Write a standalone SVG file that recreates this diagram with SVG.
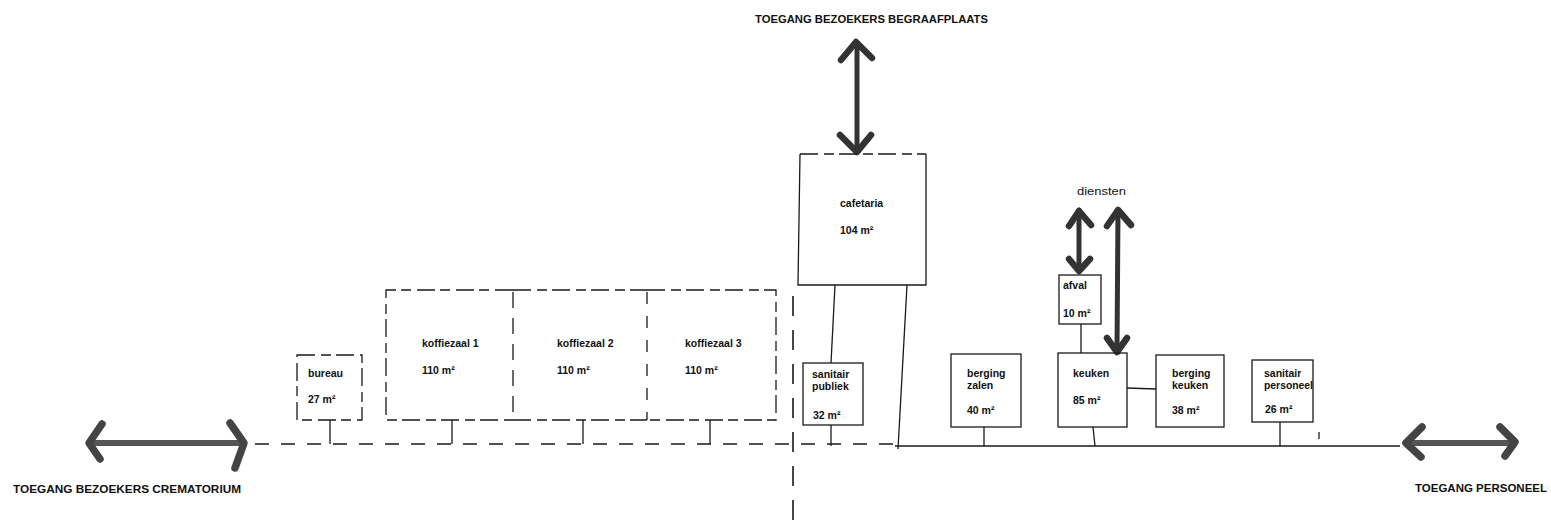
<svg xmlns="http://www.w3.org/2000/svg" width="1551" height="525" viewBox="0 0 1551 525">
<style>
  .box{fill:none;stroke:#1a1a1a;stroke-width:1.3}
  .dbox{fill:none;stroke:#1a1a1a;stroke-width:1.3;stroke-dasharray:18 6 10 5}
  .ln{fill:none;stroke:#1a1a1a;stroke-width:1.3}
  .dash{fill:none;stroke:#1a1a1a;stroke-width:1.3;stroke-dasharray:14 12}
  .vdash{fill:none;stroke:#1a1a1a;stroke-width:1.6;stroke-dasharray:20 14}
  .arr{fill:none;stroke:#555;stroke-width:6;stroke-linecap:round;stroke-linejoin:round}
  .head{fill:none;stroke:#444;stroke-width:7.5;stroke-linecap:round;stroke-linejoin:round}
  .arrd{fill:none;stroke:#333;stroke-width:5;stroke-linecap:round;stroke-linejoin:round}
  .headd{fill:none;stroke:#333;stroke-width:6.5;stroke-linecap:round;stroke-linejoin:round}
  .t{font-family:"Liberation Sans",Arial,sans-serif;font-size:10.5px;font-weight:bold;fill:#111}
  .tn{font-family:"Liberation Sans",Arial,sans-serif;font-size:11px;fill:#111}
  .cap{font-family:"Liberation Sans",Arial,sans-serif;font-size:10.5px;font-weight:bold;fill:#111}
</style>
<rect width="1551" height="525" fill="#ffffff"/>

<g id="connectors">
  <!-- corridor -->
  <line class="dash" x1="255" y1="444" x2="895" y2="444"/>
  <line class="ln" x1="895" y1="446" x2="1400" y2="446"/>
  <!-- vertical dashed divider -->
  <line class="vdash" x1="793" y1="296" x2="793" y2="522"/>
  <!-- stems -->
  <line class="ln" x1="330" y1="420" x2="330" y2="444"/>
  <line class="ln" x1="452" y1="420" x2="452" y2="444"/>
  <line class="ln" x1="583" y1="420" x2="583" y2="444"/>
  <line class="ln" x1="710" y1="420" x2="710" y2="444"/>
  <line class="ln" x1="835" y1="285" x2="831" y2="363"/>
  <line class="ln" x1="831" y1="425" x2="831" y2="446"/>
  <line class="ln" x1="907" y1="285" x2="898" y2="449"/>
  <line class="ln" x1="984" y1="427" x2="984" y2="446"/>
  <line class="ln" x1="1081" y1="324" x2="1081" y2="353"/>
  <line class="ln" x1="1093" y1="427" x2="1095" y2="446"/>
  <line class="ln" x1="1127" y1="388" x2="1156" y2="389"/>
  <line class="ln" x1="1280" y1="422" x2="1280" y2="446"/>
  <line class="ln" x1="1319" y1="432" x2="1319" y2="439"/>
  <!-- access arrows -->
  <g id="arrow-crematorium">
    <line class="arr" x1="90" y1="443" x2="243" y2="443"/>
    <polyline class="head" points="102,424 89,443 100,459"/>
    <polyline class="head" points="230,423 244,443 235,468"/>
  </g>
  <g id="arrow-personeel">
    <line class="arr" x1="1407" y1="443" x2="1514" y2="443"/>
    <polyline class="head" points="1422,427 1406,443 1421,457"/>
    <polyline class="head" points="1500,427 1515,442 1505,456"/>
  </g>
  <g id="arrow-begraafplaats">
    <line class="arrd" x1="857" y1="43" x2="857" y2="151"/>
    <polyline class="headd" points="841,60 856,42 872,58"/>
    <polyline class="headd" points="840,135 857,152 871,135"/>
  </g>
  <g id="arrow-afval">
    <line class="arrd" x1="1079" y1="210" x2="1079" y2="270"/>
    <polyline class="headd" points="1069,226 1079,211 1091,225"/>
    <polyline class="headd" points="1069,259 1079,271 1090,259"/>
  </g>
  <g id="arrow-keuken">
    <line class="arrd" x1="1118" y1="210" x2="1117" y2="351"/>
    <polyline class="headd" points="1107,226 1118,210 1131,225"/>
    <polyline class="headd" points="1107,338 1117,352 1127,338"/>
  </g>
</g>

<g id="labels">
  <text class="cap" x="755" y="23" textLength="233" lengthAdjust="spacingAndGlyphs">TOEGANG BEZOEKERS BEGRAAFPLAATS</text>
  <text class="cap" x="13" y="493" textLength="228" lengthAdjust="spacingAndGlyphs">TOEGANG BEZOEKERS CREMATORIUM</text>
  <text class="cap" x="1415" y="492" textLength="132" lengthAdjust="spacingAndGlyphs">TOEGANG PERSONEEL</text>
  <text class="tn" x="1077" y="195" textLength="49" lengthAdjust="spacingAndGlyphs">diensten</text>
</g>

<g id="bureau">
  <rect class="dbox" x="297" y="355" width="65" height="65"/>
  <text class="t" x="308" y="377">bureau</text>
  <text class="t" x="308" y="403">27 m²</text>
</g>

<g id="koffiezaal1">
  <path class="dbox" d="M513,290 L386,290 L386,420 L513,420"/>
  <text class="t" x="422" y="347">koffiezaal 1</text>
  <text class="t" x="422" y="374">110 m²</text>
</g>
<g id="koffiezaal2">
  <path class="dbox" d="M513,290 L647,290 M513,420 L647,420"/>
  <line class="dash" x1="513" y1="292" x2="513" y2="420" style="stroke-dasharray:16 10"/>
  <text class="t" x="557" y="347">koffiezaal 2</text>
  <text class="t" x="557" y="374">110 m²</text>
</g>
<g id="koffiezaal3">
  <path class="dbox" d="M647,290 L776,290 L776,420 L647,420"/>
  <line class="dash" x1="647" y1="292" x2="647" y2="420" style="stroke-dasharray:12 12"/>
  <text class="t" x="685" y="347">koffiezaal 3</text>
  <text class="t" x="685" y="374">110 m²</text>
</g>

<g id="cafetaria">
  <path class="dbox" d="M800,154 L926,154"/>
  <path class="box" d="M800,154 L798,285 L926,285 L926,154"/>
  <text class="t" x="840" y="207">cafetaria</text>
  <text class="t" x="840" y="234">104 m²</text>
</g>

<g id="sanitair-publiek">
  <rect class="box" x="803" y="363" width="60" height="62"/>
  <text class="t" x="812" y="378">sanitair</text>
  <text class="t" x="812" y="390">publiek</text>
  <text class="t" x="813" y="419">32 m²</text>
</g>

<g id="berging-zalen">
  <rect class="box" x="951" y="354" width="70" height="73"/>
  <text class="t" x="967" y="377">berging</text>
  <text class="t" x="967" y="389">zalen</text>
  <text class="t" x="967" y="414">40 m²</text>
</g>

<g id="afval">
  <rect class="box" x="1059" y="275" width="42" height="49"/>
  <text class="t" x="1063" y="289">afval</text>
  <text class="t" x="1063" y="317">10 m²</text>
</g>

<g id="keuken">
  <rect class="box" x="1058" y="353" width="69" height="74"/>
  <text class="t" x="1073" y="377">keuken</text>
  <text class="t" x="1073" y="404">85 m²</text>
</g>

<g id="berging-keuken">
  <rect class="box" x="1156" y="355" width="68" height="72"/>
  <text class="t" x="1172" y="377">berging</text>
  <text class="t" x="1172" y="389">keuken</text>
  <text class="t" x="1172" y="414">38 m²</text>
</g>

<g id="sanitair-personeel">
  <rect class="box" x="1252" y="360" width="61" height="62"/>
  <text class="t" x="1264" y="377">sanitair</text>
  <text class="t" x="1264" y="389" textLength="49" lengthAdjust="spacingAndGlyphs">personeel</text>
  <text class="t" x="1265" y="413">26 m²</text>
</g>
</svg>
